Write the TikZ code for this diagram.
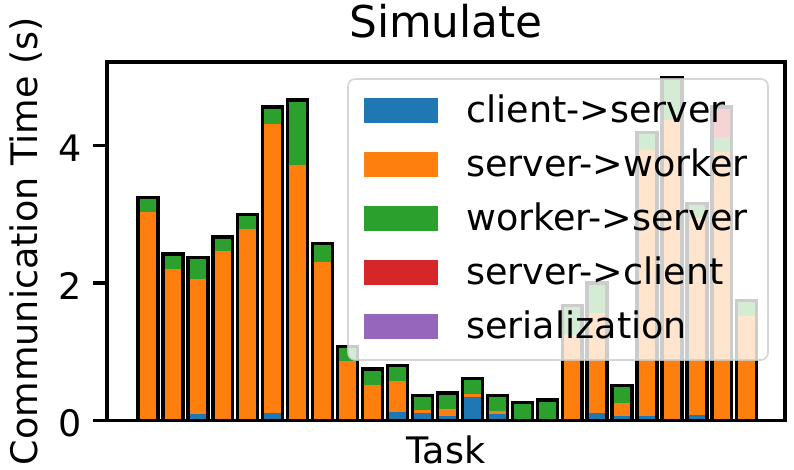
\documentclass[tikz,border=0pt]{standalone}
\usepackage{fontspec}
\setmainfont{DejaVu Sans}
\usepackage{tikz}
\usetikzlibrary{positioning}

\definecolor{tabblue}{HTML}{1F77B4}
\definecolor{taborange}{HTML}{FF7F0E}
\definecolor{tabgreen}{HTML}{2CA02C}
\definecolor{tabred}{HTML}{D62728}
\definecolor{tabpurple}{HTML}{9467BD}
\definecolor{legframe}{gray}{0.8}

\begin{document}
\begin{tikzpicture}[
  x=1pt, y=-1pt,
  lbl/.style      = {inner sep=0pt, font=\fontsize{36.5}{40}\selectfont},
  ttl/.style      = {inner sep=0pt, font=\fontsize{43.8}{48}\selectfont},
  spine/.style    = {line width=3.3pt, line cap=rect},
  barframe/.style = {draw=black, line width=3.3pt},
  legbox/.style   = {fill=white, fill opacity=0.8, draw=legframe,
                     draw opacity=0.8, line width=1.6pt, rounded corners=7pt},
]
\useasboundingbox (0,0) rectangle (794,469);

%% ── Stacked bars (value scale) ───────────────────────────────────────────
\begin{scope}[shift={(148,420.5)}, x=24.95pt, y=68.75pt]
  \foreach \i/\vb/\vo/\vg/\vr in {
      0/0/3.04/0.19/0.01,      1/0/2.20/0.22/0,       2/0.10/1.96/0.31/0,
      3/0/2.46/0.21/0,         4/0/2.79/0.21/0,       5/0.11/4.21/0.21/0.03,
      6/0/3.72/0.94/0,         7/0/2.31/0.26/0,       8/0/0.86/0.22/0,
      9/0/0.52/0.23/0,         10/0.13/0.445/0.20/0.03,
      11/0.11/0.05/0.18/0.02,  12/0.07/0.10/0.20/0.03,
      13/0.34/0.045/0.20/0.03, 14/0.095/0.045/0.20/0.02,
      15/0/0.01/0.23/0.02,     16/0/0.01/0.26/0.03,   17/0/1.24/0.42/0.01,
      18/0.11/1.45/0.44/0,     19/0.065/0.195/0.23/0.02,
      20/0.065/3.875/0.25/0,   21/0/4.37/0.61/0,      22/0.08/2.86/0.22/0,
      23/0/3.91/0.22/0.43,     24/0/1.52/0.23/0} {
    \pgfmathsetmacro\yb{\vb}
    \pgfmathsetmacro\yo{\yb+\vo}
    \pgfmathsetmacro\yg{\yo+\vg}
    \pgfmathsetmacro\yr{\yg+\vr}
    \fill[tabblue]   (\i-0.4,0)   rectangle (\i+0.4,\yb);
    \fill[taborange] (\i-0.4,\yb) rectangle (\i+0.4,\yo);
    \fill[tabgreen]  (\i-0.4,\yo) rectangle (\i+0.4,\yg);
    \fill[tabred]    (\i-0.4,\yg) rectangle (\i+0.4,\yr);
    \draw[barframe]  (\i-0.4,0)   rectangle (\i+0.4,\yr);
  }
\end{scope}

%% ── Axes, ticks and labels ───────────────────────────────────────────────
\draw[spine] (107,62) rectangle (785,420.5);
\foreach \v/\yy in {0/420.5, 2/283, 4/145.5} {
  \draw[spine] (95,\yy) -- (107,\yy);
  \node[lbl, anchor=east] (tick\v) at (82,\yy+2.5) {\v};
}
\node[ttl, anchor=base]           (title)  at (446,37)    {Simulate};
\node[lbl, anchor=base]           (xlabel) at (446,463.3) {Task};
\node[lbl, anchor=base, rotate=90](ylabel) at (37.5,241.25) {Communication Time (s)};

%% ── Legend ───────────────────────────────────────────────────────────────
\draw[legbox] (348,79) rectangle (768,360);
\foreach \k/\col/\txt in {0/tabblue/client->server, 1/taborange/server->worker,
                          2/tabgreen/worker->server, 3/tabred/server->client,
                          4/tabpurple/serialization} {
  \fill[\col] (364,97.5+54*\k) rectangle (438,122.7+54*\k);
  \node[lbl, anchor=base west] (leg\k) at (466,122.7+54*\k) {\txt};
}

\end{tikzpicture}
\end{document}
